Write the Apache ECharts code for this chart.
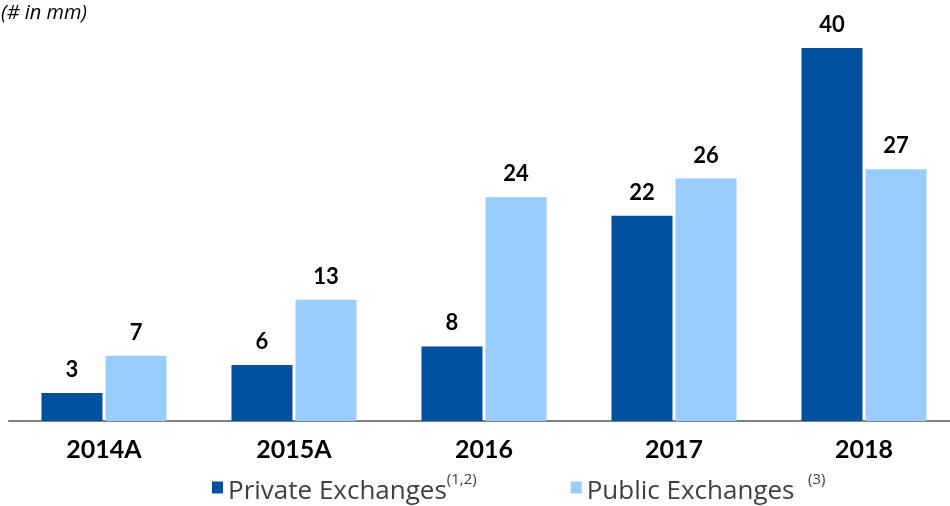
<!DOCTYPE html>
<html>
<head>
<meta charset="utf-8">
<script src="https://cdn.jsdelivr.net/npm/echarts@6/dist/echarts.min.js"></script>
<style>
  html, body { margin: 0; padding: 0; background: #fff; overflow: hidden; }
  #chart { width: 960px; height: 506px; }
</style>
</head>
<body>
<div id="chart"></div>
<script>
  var categories = ['2014A', '2015A', '2016', '2017', '2018']
  var privateExchanges = [3, 6, 8, 22, 40]
  var publicExchanges = [7, 13, 24, 26, 27]

  var myChart = echarts.init(document.getElementById('chart'))
  var labelStyle = {
    show: true,
    position: 'top',
    distance: 12,
    color: '#000',
    fontSize: 22,
    fontWeight: 'bold',
    fontFamily: 'Lato'
  }
  var option = {
    animation: false,
    title: {
      text: '(# in mm)',
      left: 1,
      top: 3,
      padding: 0,
      textStyle: {
        fontSize: 20,
        fontStyle: 'italic',
        fontWeight: 'normal',
        color: '#000',
        fontFamily: 'Open Sans'
      }
    },
    legend: {
      left: 207,
      top: 467,
      itemWidth: 11,
      itemHeight: 12,
      itemGap: 94,
      icon: 'rect',
      data: ['Private Exchanges', 'Public Exchanges'],
      formatter: function (name) {
        if (name === 'Private Exchanges') {
          return '{a|Private Exchanges}{s|(1,2)}'
        }
        return '{a|Public Exchanges  }{s|(3)}'
      },
      textStyle: {
        rich: {
          a: {
            fontSize: 26,
            color: '#404040',
            fontFamily: 'Open Sans',
            padding: [8, 0, 0, 0]
          },
          s: {
            fontSize: 15,
            color: '#404040',
            fontFamily: 'Open Sans',
            padding: [0, 0, 16, 0]
          }
        }
      }
    },
    grid: {
      left: 9,
      right: 1,
      top: 48,
      bottom: 85
    },
    xAxis: {
      type: 'category',
      data: categories,
      axisLine: {
        lineStyle: { color: '#808080', width: 2 }
      },
      axisTick: { show: false },
      axisLabel: {
        color: '#000',
        fontSize: 25,
        fontWeight: 'bold',
        fontFamily: 'Lato',
        margin: 16
      }
    },
    yAxis: {
      type: 'value',
      min: 0,
      max: 40,
      show: false,
      splitLine: { show: false }
    },
    series: [{
      name: 'Private Exchanges',
      type: 'bar',
      data: privateExchanges,
      barWidth: 61,
      barGap: '5%',
      itemStyle: { color: '#0050A0' },
      label: labelStyle
    }, {
      name: 'Public Exchanges',
      type: 'bar',
      data: publicExchanges,
      barWidth: 61,
      itemStyle: { color: '#99CCFF' },
      label: labelStyle
    }]
  }
  myChart.setOption(option)
</script>
</body>
</html>
